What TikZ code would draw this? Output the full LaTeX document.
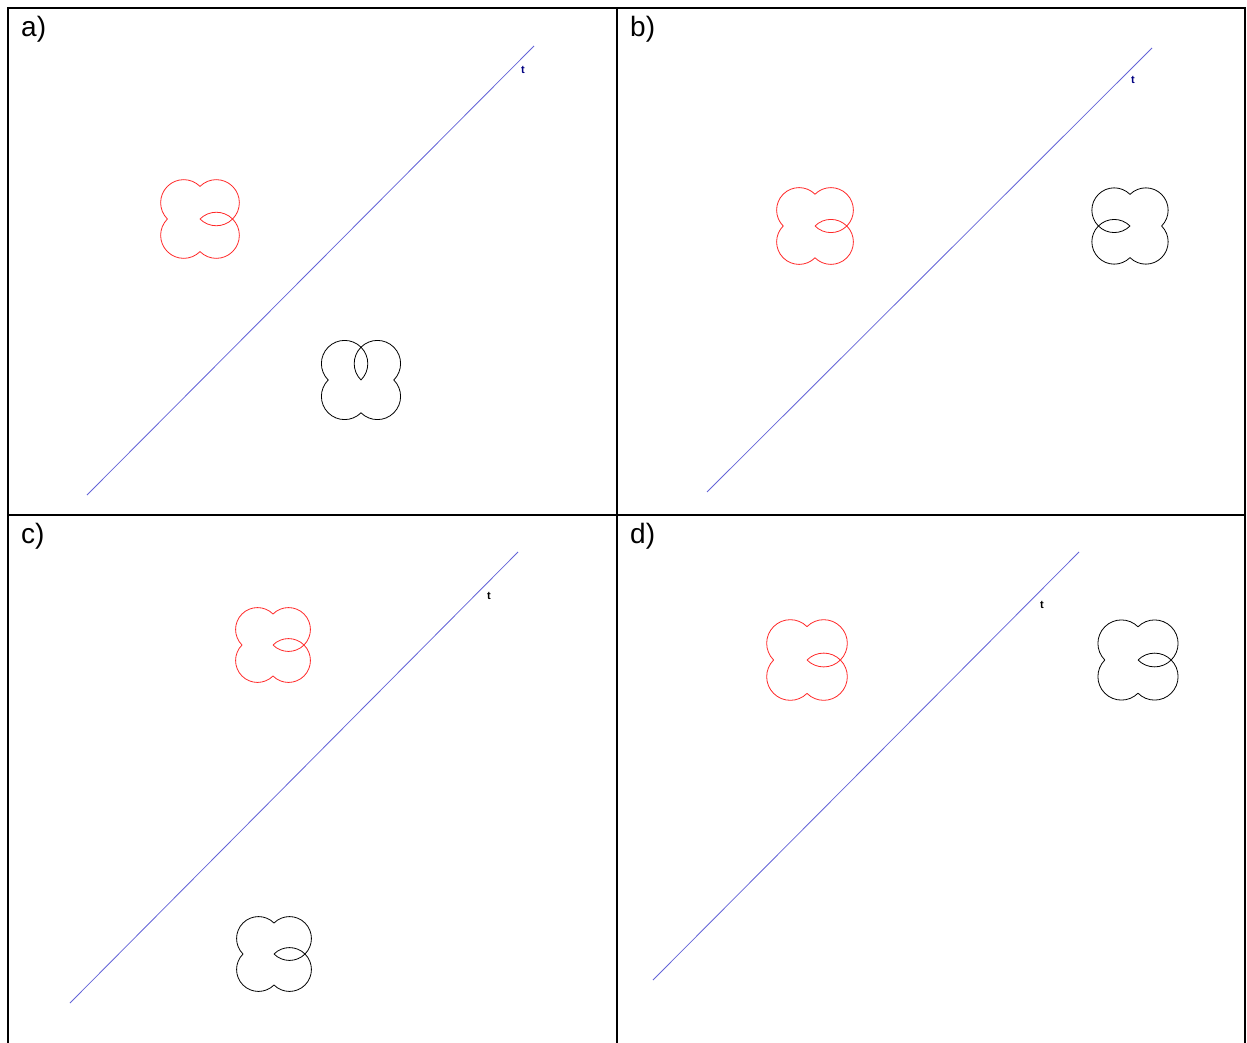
\documentclass[tikz,border=0pt]{standalone}
\usepackage{fontspec}
\setmainfont{Liberation Sans}
\definecolor{axisblue}{RGB}{100,100,215}
\definecolor{navy}{RGB}{0,0,128}
\definecolor{cred}{RGB}{255,40,40}
\tikzset{
  frame/.style={line width=1.5pt, black},
  axis/.style={line width=0.8pt, axisblue},
  shp/.style={line width=0.8pt},
  plabel/.style={font=\fontsize{28}{28}\selectfont, anchor=west, inner sep=0pt},
  tlabel/.style={font=\fontsize{11}{11}\selectfont\bfseries, inner sep=0pt},
}
% #1 style, #2 x, #3 y, #4 a, #5 lens side angle
\newcommand\cloverdraw[5]{%
  \begin{scope}[shift={(#2,#3)}]
    \foreach \f in {45,135,225,315}{
      \draw[shp,#1] (\f:{#4*1.41421}) ++({\f-90}:{#4*1.41421})
        arc[start angle={\f-90}, end angle={\f+90}, radius={#4*1.41421}];
    }
    \pgfmathsetmacro\fa{#5-45}
    \pgfmathsetmacro\fb{#5+45}
    \draw[shp,#1] (\fa:{#4*1.41421}) ++({\fa+90}:{#4*1.41421})
      arc[start angle={\fa+90}, end angle={\fa+180}, radius={#4*1.41421}];
    \draw[shp,#1] (\fb:{#4*1.41421}) ++({\fb+180}:{#4*1.41421})
      arc[start angle={\fb+180}, end angle={\fb+270}, radius={#4*1.41421}];
  \end{scope}%
}
\begin{document}
\begin{tikzpicture}[x=1pt,y=-1pt]
\useasboundingbox (0,0) rectangle (1247,1043);
% frame
\draw[frame] (8,1043) -- (8,8) -- (1245,8) -- (1245,1043);
\draw[frame] (617,8) -- (617,1043);
\draw[frame] (8,515) -- (1245,515);
% panel labels
\node[plabel] (la) at (21,29) {a)};
\node[plabel] (lb) at (630,29) {b)};
\node[plabel] (lc) at (21,536) {c)};
\node[plabel] (ld) at (630,536) {d)};
% axes
\coordinate (a1) at (87,495); \coordinate (a2) at (534,46);
\coordinate (b1) at (707,492); \coordinate (b2) at (1152,48);
\coordinate (c1) at (70,1003); \coordinate (c2) at (518,552);
\coordinate (d1) at (653,980); \coordinate (d2) at (1079,552);
\draw[axis] (a1) -- (a2);
\draw[axis] (b1) -- (b2);
\draw[axis] (c1) -- (c2);
\draw[axis] (d1) -- (d2);
\node[tlabel, text=navy] (ta) at (523,70) {t};
\node[tlabel, text=navy] (tb) at (1133,80) {t};
\node[tlabel] (tc) at (489,596) {t};
\node[tlabel] (td) at (1042,605) {t};
% shapes
\cloverdraw{cred}{200}{219}{16.3}{0}
\cloverdraw{black}{361}{380}{16.4}{-90}
\cloverdraw{cred}{815}{226}{15.9}{0}
\cloverdraw{black}{1130}{226}{15.8}{180}
\cloverdraw{cred}{273}{645}{15.5}{0}
\cloverdraw{black}{274}{954}{15.5}{0}
\cloverdraw{cred}{807}{660}{16.7}{0}
\cloverdraw{black}{1138}{660}{16.6}{0}
\end{tikzpicture}
\end{document}
